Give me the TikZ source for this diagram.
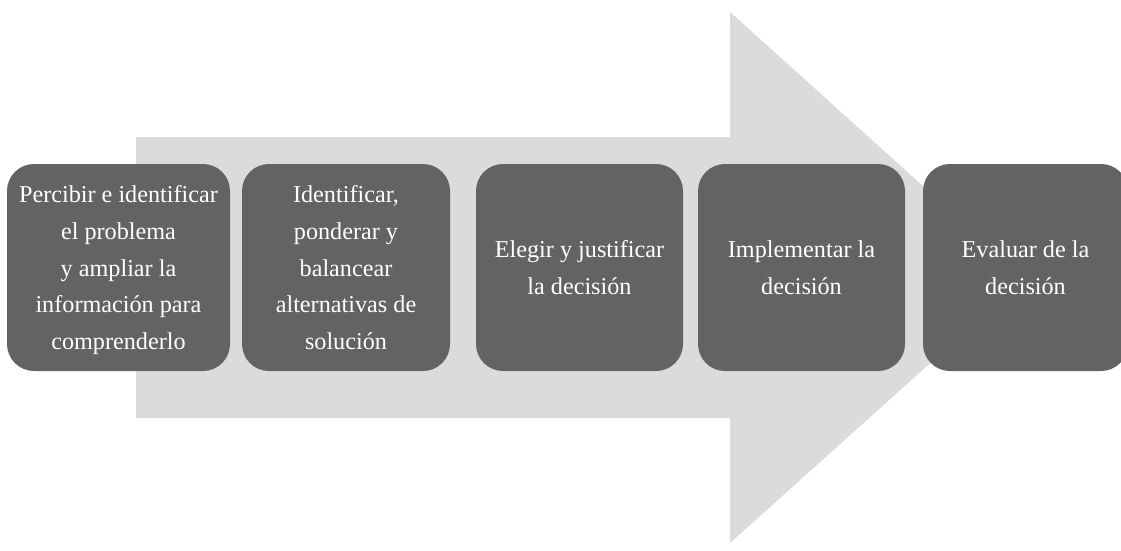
\documentclass[tikz,border=0pt]{standalone}
\usepackage{fontspec}
\setmainfont{Liberation Serif}
\usepackage{tikz}
\definecolor{gris}{HTML}{626362}
\definecolor{grisclaro}{HTML}{DADBDB}

\begin{document}
\begin{tikzpicture}[x=1pt,y=-1pt]
\tikzset{paso/.style={fill=gris, rounded corners=27pt, text=white, align=center,
  font=\fontsize{24.2}{36.7}\selectfont, inner sep=0pt, minimum height=207pt}}
\useasboundingbox (0,0) rectangle (1121,551);
% flecha de fondo
\fill[grisclaro] (136,137) -- (730,137) -- (730,12) -- (1025,278)
  -- (730,543) -- (730,418) -- (136,418) -- cycle;
% pasos
\node[paso, minimum width=223pt, text depth=-6pt] (percibir) at (118.5,267.5)
  {Percibir e identificar\\ el problema\\ y ampliar la\\ información para\\ comprenderlo};
\node[paso, minimum width=208pt, text depth=-6pt] (identificar) at (346,267.5)
  {Identificar,\\ ponderar y\\ balancear\\ alternativas de\\ solución};
\node[paso, minimum width=207pt, text depth=-2pt] (elegir) at (579.5,267.5)
  {Elegir y justificar\\ la decisión};
\node[paso, minimum width=207pt] (implementar) at (801.5,267.5)
  {Implementar la\\ decisión};
\node[paso, minimum width=205pt] (evaluar) at (1025.5,267.5)
  {Evaluar de la\\ decisión};
\end{tikzpicture}
\end{document}
